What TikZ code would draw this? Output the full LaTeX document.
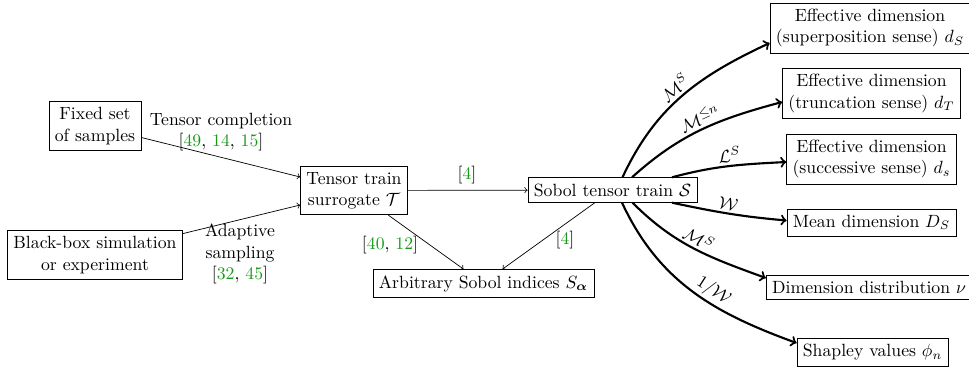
\documentclass[tikz,border=0pt]{standalone}
\usepackage{amsmath}
\usetikzlibrary{calc}
\definecolor{citegreen}{rgb}{0.1,0.6,0.1}
\newcommand{\cn}[1]{\textcolor{citegreen}{#1}}
\tikzset{
  box/.style={draw, align=center},
  lbl/.style={align=center},
  thin arrow/.style={->},
  heavy arrow/.style={->, very thick},
  curvelbl/.style={sloped, above, inner sep=1.5pt}
}
\begin{document}
\begin{tikzpicture}[x=0.565pt, y=0.565pt]
\useasboundingbox (0,0) rectangle (969,367);

% input sources and the surrogate
\node[box] (fixed) at (95,241) {Fixed set\\of samples};
\node[box] (bb) at (95,112) {Black-box simulation\\or experiment};
\node[box] (tt) at (354,176.5) {Tensor train\\surrogate $\mathcal{T}$};
\node[box] (sob) at (612.5,177) {Sobol tensor train $\mathcal{S}$};
\node[box] (arb) at (483.5,83.5) {Arbitrary Sobol indices $S_{\boldsymbol{\alpha}}$};

% derived quantities
\node[box] (eff1) at (870,339) {Effective dimension\\(superposition sense) $d_S$};
\node[box] (eff2) at (871.5,273.5) {Effective dimension\\(truncation sense) $d_T$};
\node[box] (eff3) at (871.5,208) {Effective dimension\\(successive sense) $d_s$};
\node[box] (mean) at (871.5,144.5) {Mean dimension $D_S$};
\node[box] (dist) at (869,79.5) {Dimension distribution $\nu$};
\node[box] (shap) at (872.5,15) {Shapley values $\phi_n$};

% edge labels with references
\node[lbl] (ltc) at (221,235) {Tensor completion\\{[}\cn{49}, \cn{14}, \cn{15}]};
\node[lbl] (lad) at (240,113) {Adaptive\\sampling\\{[}\cn{32}, \cn{45}]};
\node[lbl] (l4a) at (467,192) {[\cn{4}]};
\node[lbl] (l4012) at (390,122) {[\cn{40}, \cn{12}]};
\node[lbl] (l4b) at (565,127) {[\cn{4}]};

% thin connectors
\draw[thin arrow] (fixed) -- ($(tt.west)+(0,13.5)$);
\draw[thin arrow] (bb) -- ($(tt.west)+(0,-14.5)$);
\draw[thin arrow] (tt) -- (sob);
\draw[thin arrow] (tt) -- ($(arb.north)+(-20,0)$);
\draw[thin arrow] (sob) -- ($(arb.north)+(19,0)$);

% heavy curved connectors out of the Sobol tensor train
\draw[heavy arrow] ($(sob.north)+(10,0)$) to[out=65,in=205]
  node[curvelbl, pos=0.5] (m1) {$\mathcal{M}^S$} ($(eff1.west)+(0,-15)$);
\draw[heavy arrow] ($(sob.north)+(19.5,0)$) to[out=42,in=195]
  node[curvelbl, pos=0.52] (m2) {$\mathcal{M}^{\leq n}$} ($(eff2.west)+(0,-8.5)$);
\draw[heavy arrow] ($(sob.north)+(59.5,0)$) to[out=15,in=183]
  node[curvelbl, pos=0.52] (m3) {$\mathcal{L}^S$} ($(eff3.west)+(0,-3)$);
\draw[heavy arrow] ($(sob.south)+(59.5,0)$) to[out=-12,in=175]
  node[curvelbl, pos=0.48] (m4) {$\mathcal{W}$} ($(mean.west)+(0,2)$);
\draw[heavy arrow] ($(sob.south)+(20,0)$) to[out=-45,in=160]
  node[curvelbl, pos=0.5] (m5) {$\mathcal{M}^S$} ($(dist.west)+(0,9.5)$);
\draw[heavy arrow] ($(sob.south)+(9.5,0)$) to[out=-65,in=160]
  node[curvelbl, pos=0.58] (m6) {$1/\mathcal{W}$} ($(shap.west)+(0,9)$);
\end{tikzpicture}
\end{document}
